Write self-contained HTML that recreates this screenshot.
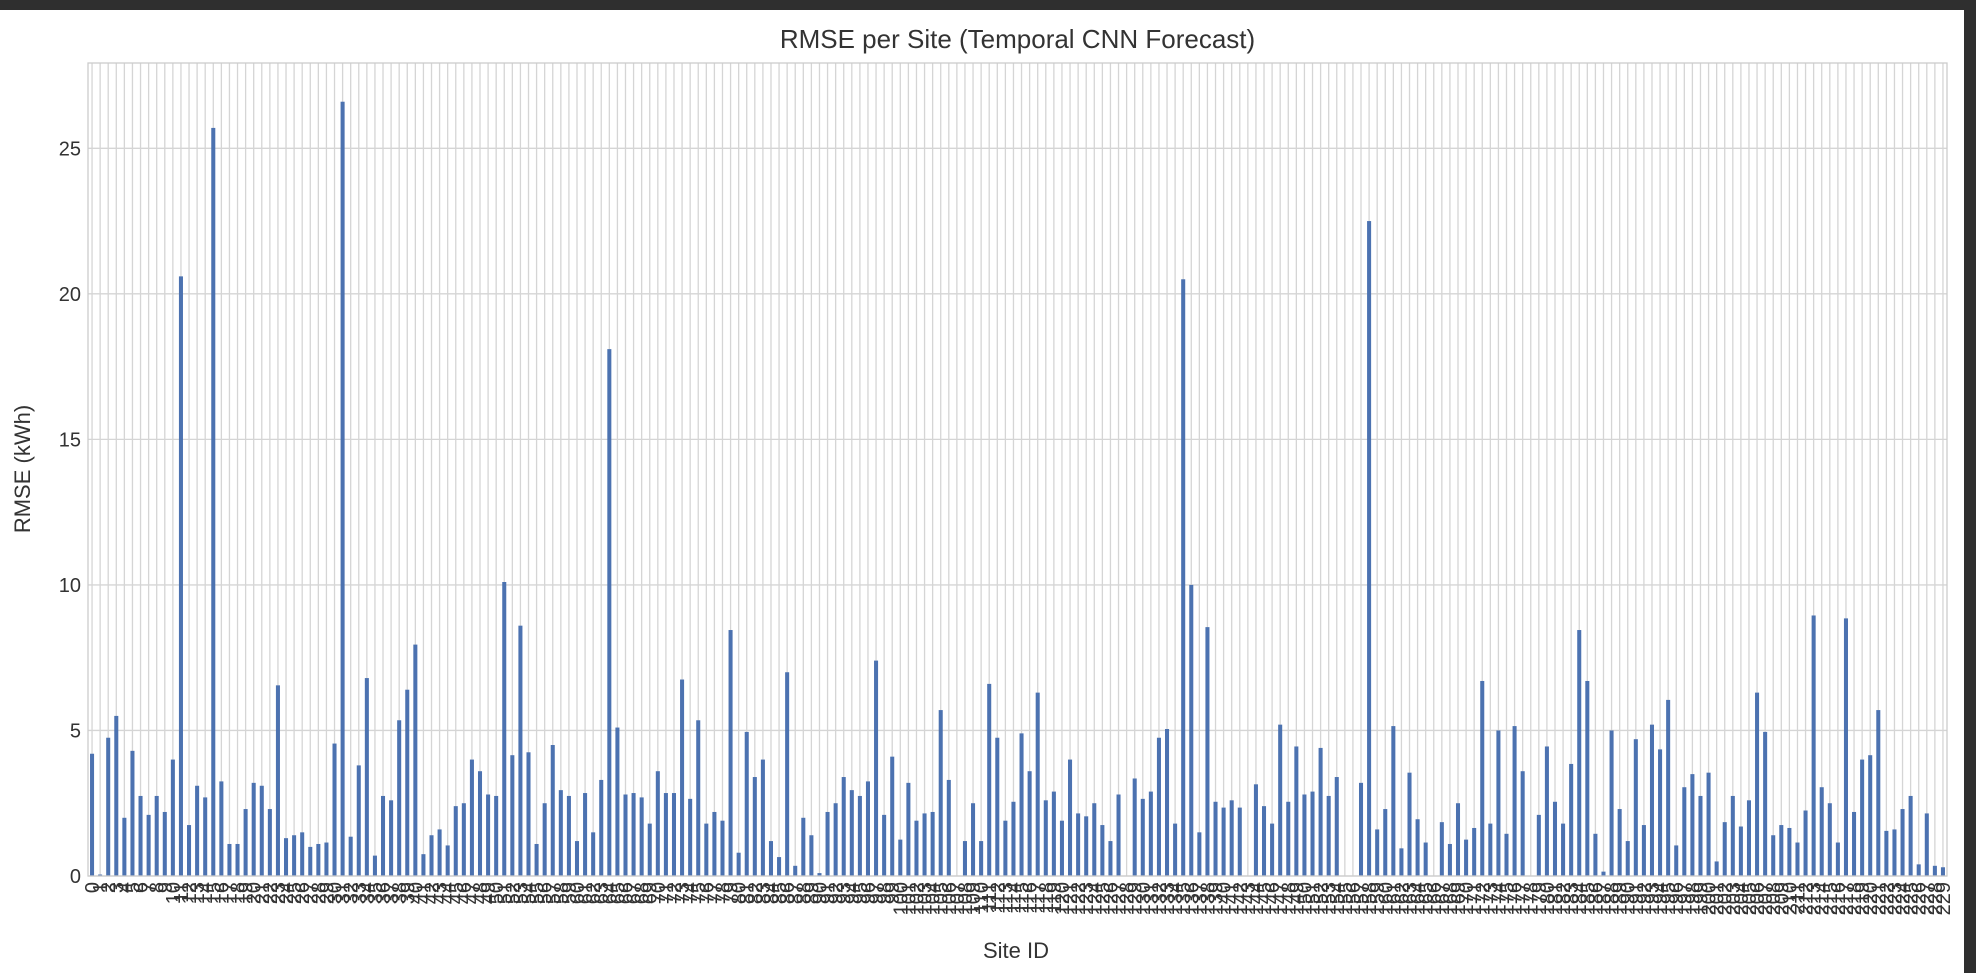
<!DOCTYPE html>
<html><head><meta charset="utf-8">
<style>
html,body{margin:0;padding:0;background:#fff;}
body{width:1976px;height:973px;overflow:hidden;position:relative;font-family:"Liberation Sans",sans-serif;}
#topbar{position:absolute;left:0;top:0;width:1976px;height:10px;background:#2f2f2f;}
#rightbar{position:absolute;right:0;top:0;width:12px;height:973px;background:#2f2f2f;}
svg{position:absolute;left:0;top:0;}
</style></head>
<body>
<div id="topbar"></div>
<div id="rightbar"></div>
<svg id="chart" width="1976" height="973"></svg>
<script>
const rmseValues = [
4.2,0.05,4.75,5.5,2.0,4.3,2.75,2.1,2.75,2.2,
4.0,20.6,1.75,3.1,2.7,25.7,3.25,1.1,1.1,2.3,
3.2,3.1,2.3,6.55,1.3,1.4,1.5,1.0,1.1,1.15,
4.55,26.6,1.35,3.8,6.8,0.7,2.75,2.6,5.35,6.4,
7.95,0.75,1.4,1.6,1.05,2.4,2.5,4.0,3.6,2.8,
2.75,10.1,4.15,8.6,4.25,1.1,2.5,4.5,2.95,2.75,
1.2,2.85,1.5,3.3,18.1,5.1,2.8,2.85,2.7,1.8,
3.6,2.85,2.85,6.75,2.65,5.35,1.8,2.2,1.9,8.45,
0.8,4.95,3.4,4.0,1.2,0.65,7.0,0.35,2.0,1.4,
0.1,2.2,2.5,3.4,2.95,2.75,3.25,7.4,2.1,4.1,
1.25,3.2,1.9,2.15,2.2,5.7,3.3,0.0,1.2,2.5,
1.2,6.6,4.75,1.9,2.55,4.9,3.6,6.3,2.6,2.9,
1.9,4.0,2.15,2.05,2.5,1.75,1.2,2.8,0.0,3.35,
2.65,2.9,4.75,5.05,1.8,20.5,10.0,1.5,8.55,2.55,
2.35,2.6,2.35,0.0,3.15,2.4,1.8,5.2,2.55,4.45,
2.8,2.9,4.4,2.75,3.4,0.0,0.0,3.2,22.5,1.6,
2.3,5.15,0.95,3.55,1.95,1.15,0.0,1.85,1.1,2.5,
1.25,1.65,6.7,1.8,5.0,1.45,5.15,3.6,0.0,2.1,
4.45,2.55,1.8,3.85,8.45,6.7,1.45,0.15,5.0,2.3,
1.2,4.7,1.75,5.2,4.35,6.05,1.05,3.05,3.5,2.75,
3.55,0.5,1.85,2.75,1.7,2.6,6.3,4.95,1.4,1.75,
1.65,1.15,2.25,8.95,3.05,2.5,1.15,8.85,2.2,4.0,
4.15,5.7,1.55,1.6,2.3,2.75,0.4,2.15,0.35,0.3
];
const siteIds = rmseValues.map((v,i)=>String(i));
const yTicks = [0,5,10,15,20,25];

const NS="http://www.w3.org/2000/svg";
const svg=document.getElementById('chart');
const L=88,R=1947,T=63,B=876,YMAX=27.93;
const n=rmseValues.length, step=(R-L)/n;
const xPos=i=>L+step*(i+0.5);
const yPos=v=>B-(v/YMAX)*(B-T);
function mk(tag,attrs,parent){const e=document.createElementNS(NS,tag);for(const k in attrs)e.setAttribute(k,attrs[k]);(parent||svg).appendChild(e);return e;}

const grid=mk('g',{});


siteIds.forEach((s,i)=>{mk('line',{x1:xPos(i),x2:xPos(i),y1:T,y2:B,stroke:'#d5d5d5','stroke-width':1.3},grid);});
yTicks.forEach(t=>{mk('line',{x1:L,x2:R,y1:yPos(t),y2:yPos(t),stroke:'#d5d5d5','stroke-width':1.3},grid);});

const bars=mk('g',{});


rmseValues.forEach((v,i)=>{
  const w=step*0.5;
  const r=mk('rect',{x:xPos(i)-w/2,y:yPos(v),width:w,height:B-yPos(v),fill:'#4c72b0'},bars);
  
  
});

const frame=mk('rect',{x:L,y:T,width:R-L,height:B-T,fill:'none',stroke:'#cccccc','stroke-width':1.3});



const yt=mk('g',{});


yTicks.forEach(t=>{const e=mk('text',{x:L-7,y:yPos(t)+7,'text-anchor':'end','font-size':20,fill:'#333'},yt);e.textContent=t;});

const xt=mk('g',{});


siteIds.forEach((s,i)=>{const x=xPos(i)+7,y=B+6;const e=mk('text',{x:x,y:y,'text-anchor':'end','font-size':20,fill:'#333',transform:`rotate(-90 ${x} ${y})`},xt);e.textContent=s;});

const title=mk('text',{x:(L+R)/2,y:48,'text-anchor':'middle','font-size':26,fill:'#333'});
title.textContent='RMSE per Site (Temporal CNN Forecast)';



const xl=mk('text',{x:1016,y:958,'text-anchor':'middle','font-size':22,fill:'#333'});
xl.textContent='Site ID';



const yl=mk('text',{x:30,y:469,'text-anchor':'middle','font-size':22,fill:'#333',transform:'rotate(-90 30 469)'});
yl.textContent='RMSE (kWh)';


</script>
</body></html>
